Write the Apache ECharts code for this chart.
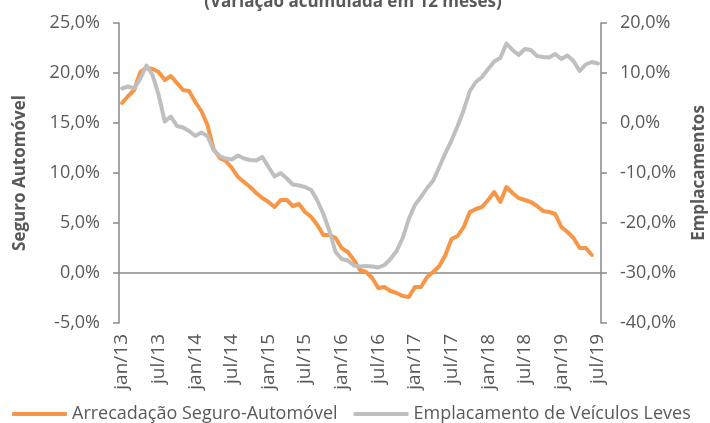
<!DOCTYPE html>
<html lang="pt">
<head>
  <meta charset="UTF-8">
  <style>
    body { margin: 0; }
    #chart { width: 710px; height: 423px; }
  </style>
  <script src="https://cdn.jsdelivr.net/npm/echarts@6/dist/echarts.min.js"></script>
</head>
<body>
  <div id="chart"></div>
  <script>
    // meses de jan/13 a jul/19
    var meses = ['jan', 'fev', 'mar', 'abr', 'mai', 'jun', 'jul', 'ago', 'set', 'out', 'nov', 'dez']
    var anos = ['13', '14', '15', '16', '17', '18', '19']
    var categorias = []
    anos.forEach(function (a) {
      meses.forEach(function (m) {
        if (categorias.length < 79) categorias.push(m + '/' + a)
      })
    })

    // Arrecadação Seguro-Automóvel (% acumulado 12 meses, eixo esquerdo)
    var seguroAuto = [
      17.0, 17.7, 18.3, 20.1, 20.5, 20.4, 20.1, 19.3, 19.7, 19.0, 18.3, 18.2,
      17.1, 16.2, 14.8, 12.4, 11.5, 11.2, 10.5, 9.6, 9.1, 8.6, 8.0, 7.5,
      7.1, 6.6, 7.3, 7.3, 6.7, 6.9, 6.1, 5.6, 4.8, 3.8, 3.8, 3.5,
      2.5, 2.1, 1.3, 0.3, 0.1, -0.5, -1.5, -1.4, -1.8, -2.0, -2.3, -2.4,
      -1.4, -1.4, -0.4, 0.1, 0.7, 1.8, 3.4, 3.7, 4.6, 6.1, 6.4, 6.6,
      7.3, 8.1, 7.1, 8.6, 8.0, 7.5, 7.3, 7.1, 6.7, 6.2, 6.1, 5.9,
      4.6, 4.1, 3.5, 2.5, 2.5, 1.8, null
    ]

    // Emplacamento de Veículos Leves (% acumulado 12 meses, eixo direito)
    var emplacamentos = [
      6.9, 7.3, 6.9, 8.9, 11.5, 9.6, 5.6, 0.3, 1.3, -0.6, -0.9, -1.6,
      -2.6, -1.9, -2.6, -5.4, -6.6, -7.1, -7.3, -6.5, -7.1, -7.4, -7.5, -6.8,
      -8.8, -10.7, -10.0, -11.1, -12.3, -12.5, -12.8, -13.4, -15.5, -18.2, -21.6, -25.8,
      -27.2, -27.5, -28.5, -28.7, -28.6, -28.7, -28.9, -28.4, -27.2, -25.6, -23.0, -19.2,
      -16.4, -14.8, -13.0, -11.5, -8.8, -6.0, -3.5, -0.6, 2.6, 6.4, 8.2, 9.2,
      10.8, 12.3, 13.0, 15.9, 14.6, 13.6, 14.8, 14.6, 13.4, 13.2, 13.1, 13.8,
      12.8, 13.5, 12.4, 10.4, 11.7, 12.2, 11.9
    ]

    var fonte = '"Open Sans", sans-serif'
    var corTexto = '#595959'
    var corEixo = '#898989'

    function pct(v) {
      return v.toFixed(1).replace('.', ',') + '%'
    }

    var chart = echarts.init(document.getElementById('chart'))
    var option = {
      animation: false,
      title: {
        text: '(Variação acumulada em 12 meses)',
        left: 348,
        textAlign: 'center',
        top: -11,
        textStyle: { fontFamily: fonte, fontSize: 17, fontWeight: 'bold', color: corTexto }
      },
      grid: { left: 119, right: 109, top: 23, bottom: 100, outerBoundsMode: 'none' },
      legend: {
        bottom: 0,
        left: 12,
        right: 0,
        padding: 0,
        icon: 'roundRect',
        itemWidth: 55,
        itemHeight: 4,
        itemGap: 16,
        textStyle: { fontFamily: fonte, fontSize: 18, color: corTexto },
        data: ['Arrecadação Seguro-Automóvel', 'Emplacamento de Veículos Leves']
      },
      xAxis: [
        {
          type: 'category',
          data: categorias,
          boundaryGap: true,
          axisLine: { onZero: true, onZeroAxisIndex: 0, lineStyle: { color: corEixo, width: 1.5 } },
          axisTick: { interval: 5, length: 6, lineStyle: { color: corEixo, width: 1.5 } },
          axisLabel: { show: false },
          splitLine: { show: false }
        },
        {
          type: 'category',
          data: categorias,
          position: 'bottom',
          boundaryGap: true,
          axisLine: { show: false, onZero: false },
          axisTick: { show: false },
          axisLabel: {
            interval: 5,
            rotate: 90,
            margin: 11,
            fontFamily: fonte,
            fontSize: 19,
            color: corTexto
          },
          splitLine: { show: false }
        }
      ],
      yAxis: [
        {
          type: 'value',
          min: -5,
          max: 25,
          interval: 5,
          name: 'Seguro Automóvel',
          nameLocation: 'middle',
          nameGap: 90,
          nameTextStyle: { fontFamily: fonte, fontSize: 17, fontWeight: 'bold', color: corTexto },
          axisLine: { show: true, lineStyle: { color: corEixo, width: 1.5 } },
          axisTick: { show: true, length: 6, lineStyle: { color: corEixo, width: 1.5 } },
          axisLabel: { margin: 19, fontFamily: fonte, fontSize: 18, color: corTexto, formatter: pct },
          splitLine: { show: false }
        },
        {
          type: 'value',
          min: -40,
          max: 20,
          interval: 10,
          position: 'right',
          name: 'Emplacamentos',
          nameLocation: 'middle',
          nameGap: 90,
          nameRotate: 90,
          nameTextStyle: { fontFamily: fonte, fontSize: 17, fontWeight: 'bold', color: corTexto },
          axisLine: { show: true, lineStyle: { color: corEixo, width: 1.5 } },
          axisTick: { show: true, length: 6, lineStyle: { color: corEixo, width: 1.5 } },
          axisLabel: { margin: 19, fontFamily: fonte, fontSize: 18, color: corTexto, formatter: pct },
          splitLine: { show: false }
        }
      ],
      series: [
        {
          name: 'Arrecadação Seguro-Automóvel',
          type: 'line',
          data: seguroAuto,
          xAxisIndex: 0,
          yAxisIndex: 0,
          symbol: 'none',
          itemStyle: { color: '#F79646' },
          lineStyle: { width: 4, color: '#F79646', join: 'round', cap: 'round' }
        },
        {
          name: 'Emplacamento de Veículos Leves',
          type: 'line',
          data: emplacamentos,
          xAxisIndex: 0,
          yAxisIndex: 1,
          symbol: 'none',
          itemStyle: { color: '#BFBFBF' },
          lineStyle: { width: 4, color: '#BFBFBF', join: 'round', cap: 'round' }
        }
      ]
    }
    chart.setOption(option)
  </script>
</body>
</html>
